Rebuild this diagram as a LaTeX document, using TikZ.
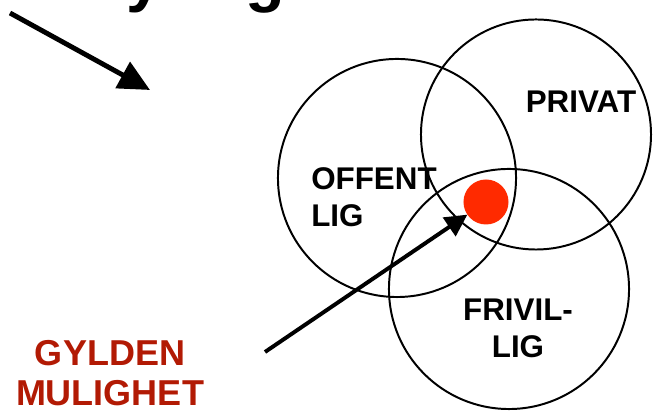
\documentclass[tikz,border=0pt]{standalone}
\usepackage{fontspec}
\setmainfont{Liberation Sans}
\usepackage{xcolor}
\usepackage{tikz}
\usetikzlibrary{arrows.meta, positioning}

\definecolor{gullrod}{RGB}{178,26,4}
\definecolor{prikkrod}{RGB}{255,42,0}

\begin{document}
\begin{tikzpicture}[x=0.025cm, y=0.025cm,
    sirkel/.style={circle, draw=black, line width=1.4pt, inner sep=0pt, outer sep=0pt},
    etikett/.style={font=\fontsize{22.3}{26.4}\selectfont\bfseries, inner sep=0pt},
    gull/.style={font=\fontsize{25.6}{29}\selectfont\bfseries, text=gullrod, inner sep=0pt, align=center},
    prikk/.style={circle, fill=prikkrod, inner sep=0pt, outer sep=0pt, minimum size=1.125cm},
    pil/.style={-{Triangle[length=0.55cm, width=0.55cm]}, line width=2.8pt},
    storpil/.style={-{Triangle[length=0.78cm, width=0.73cm]}, line width=3.5pt}
]
    \useasboundingbox (0,0) rectangle (654,412);

    % Tittel (kuttet i toppen)
    \node[font=\fontsize{46.2}{50}\selectfont\bfseries, inner sep=0pt, anchor=base west] (tittel) at (68,412) {styring};

    % De tre sektorene
    \node[sirkel, minimum size=5.95cm] (offentlig) at (397,234) {};
    \node[sirkel, minimum size=5.75cm] (privat) at (536,277.5) {};
    \node[sirkel, minimum size=6cm] (frivillig) at (509,123) {};

    \node[etikett, align=left, anchor=base west] (offentlig_txt) at (311,185) {OFFENT\\LIG};
    \node[etikett, anchor=base] (privat_txt) at (581,299) {PRIVAT};
    \node[etikett, align=center, anchor=base] (frivillig_txt) at (518,54) {FRIVIL-\\LIG};

    % Det gylne punktet
    \node[prikk] (gylden_punkt) at (486,210) {};
    \node[gull, anchor=base] (gylden_txt) at (110,6) {GYLDEN\\MULIGHET};

    % Piler
    \coordinate (pil_start) at (265,60);
    \draw[pil] (pil_start) -- (gylden_punkt);

    \coordinate (topp_start) at (10,399);
    \coordinate (topp_slutt) at (150,322);
    \draw[storpil] (topp_start) -- (topp_slutt);
\end{tikzpicture}
\end{document}
